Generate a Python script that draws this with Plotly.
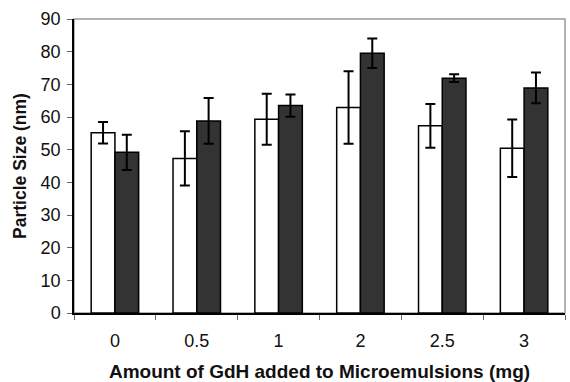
import plotly.graph_objects as go

# GdH amount (mg) per microemulsion batch
amounts = ["0", "0.5", "1", "2", "2.5", "3"]

# Particle size (nm), two formulations, with standard deviations
size_open = [55.2, 47.3, 59.3, 62.9, 57.3, 50.4]
err_open = [3.3, 8.3, 7.8, 11.1, 6.7, 8.8]
size_filled = [49.2, 58.8, 63.5, 79.5, 71.9, 68.9]
err_filled = [5.4, 7.0, 3.4, 4.5, 1.2, 4.7]

font_family = "Liberation Sans, Arial, sans-serif"

fig = go.Figure()
fig.add_trace(go.Bar(
    x=amounts, y=size_open,
    marker=dict(color="white", line=dict(color="black", width=1.5)),
    error_y=dict(type="data", array=err_open, color="black", thickness=2, width=5),
    showlegend=False,
))
fig.add_trace(go.Bar(
    x=amounts, y=size_filled,
    marker=dict(color="#333333", line=dict(color="black", width=1.5)),
    error_y=dict(type="data", array=err_filled, color="black", thickness=2, width=5),
    showlegend=False,
))

# light frame around the plotting area
fig.add_shape(type="rect", xref="paper", yref="paper", x0=0, x1=1, y0=0, y1=1,
              line=dict(color="#999999", width=1.5), layer="below")

fig.update_layout(
    width=570, height=382,
    margin=dict(l=74, r=5, t=19, b=69),
    paper_bgcolor="white", plot_bgcolor="white",
    barmode="group", bargap=0.42, bargroupgap=0,
    font=dict(family=font_family, color="#111111"),
)
fig.update_xaxes(
    type="category", automargin=False,
    showline=True, linecolor="black", linewidth=1.5,
    ticks="outside", tickson="boundaries", ticklen=5, tickcolor="#666666",
    tickfont=dict(size=18), ticklabelstandoff=11,
    showgrid=False,
    title=dict(text="<b>Amount of GdH added to Microemulsions (mg)</b>",
               font=dict(size=19), standoff=14),
)
fig.update_yaxes(
    range=[0, 90], dtick=10, automargin=False,
    showline=True, linecolor="black", linewidth=1.5,
    ticks="outside", ticklen=5, tickcolor="#666666",
    tickfont=dict(size=18), ticklabelstandoff=3,
    showgrid=False, zeroline=False,
    title=dict(text="<b>Particle Size (nm)</b>", font=dict(size=17.5), standoff=9),
)

fig.write_html("out.html")
